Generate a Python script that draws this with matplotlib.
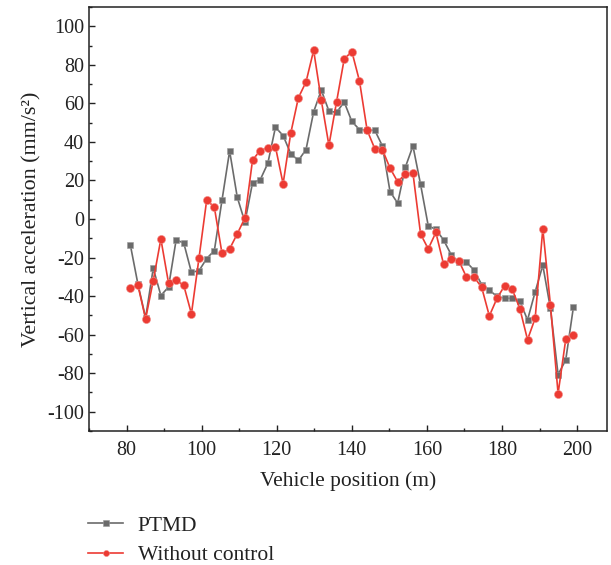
import numpy as np
import matplotlib
matplotlib.use("Agg")
import matplotlib.pyplot as plt
from matplotlib.ticker import MultipleLocator

plt.rcParams['font.family'] = ['Liberation Serif', 'DejaVu Serif']
plt.rcParams['axes.unicode_minus'] = False

# Vehicle position (m), 59 samples between 81 and 199 m
position = np.linspace(81, 199, 59)

ptmd = [-13.4, -33.9, -51.3, -25.6, -39.7, -35.3, -10.8, -12.5, -27.7, -26.8,
        -20.5, -16.4, 9.7, 35.3, 11.3, -1.6, 18.8, 20.3, 28.9, 47.6,
        43.3, 33.9, 30.4, 36.0, 55.6, 66.9, 56.0, 55.3, 60.7, 50.6,
        46.4, 46.1, 46.1, 37.9, 14.2, 8.2, 26.8, 37.9, 17.9, -3.5,
        -5.4, -10.8, -18.5, -22.4, -22.4, -26.5, -34.1, -36.9, -40.2, -41.1,
        -41.2, -42.6, -52.4, -37.8, -24.0, -46.4, -80.7, -73.2, -45.9]

without_control = [-35.8, -34.5, -51.8, -32.0, -10.4, -33.2, -31.7, -34.5, -49.2, -20.0,
                   9.9, 6.1, -17.8, -15.5, -7.7, 0.5, 30.6, 35.5, 37.0, 37.4,
                   18.3, 44.5, 62.9, 71.1, 87.5, 61.7, 38.2, 60.8, 83.0, 86.9,
                   71.6, 46.1, 36.5, 36.0, 26.4, 19.3, 23.3, 23.8, -7.8, -15.5,
                   -7.0, -23.3, -20.7, -21.6, -30.1, -30.1, -35.5, -50.3, -41.2, -34.6,
                   -36.5, -46.6, -62.6, -51.5, -5.1, -44.7, -90.6, -62.5, -60.4]

fig = plt.figure(figsize=(6.11, 5.65), dpi=100)
ax = fig.add_axes([0.1457, 0.2372, 0.848, 0.7504])

ax.plot(position, ptmd, color='#6b6b6b', lw=1.2, marker='s', markersize=5,
        markerfacecolor='#6b6b6b', markeredgecolor='#9a9a9a', markeredgewidth=0.4,
        label='PTMD', zorder=2)
ax.plot(position, without_control, color='#ec3b33', lw=1.2, marker='o', markersize=5.8,
        markerfacecolor='#ec3b33', markeredgecolor='#f28a85', markeredgewidth=0.4,
        label='Without control', zorder=3)

ax.set_xlim(70, 208)
ax.set_ylim(-110, 110)
ax.xaxis.set_major_locator(MultipleLocator(20))
ax.xaxis.set_minor_locator(MultipleLocator(10))
ax.yaxis.set_major_locator(MultipleLocator(20))
ax.yaxis.set_minor_locator(MultipleLocator(10))
ax.tick_params(which='both', direction='in', labelsize=14.5, colors='#222222')
ax.tick_params(which='major', length=4.5, width=1)
ax.tick_params(axis='x', pad=7)
ax.tick_params(which='minor', length=2.5, width=1)
for s in ax.spines.values():
    s.set_linewidth(1.1)
    s.set_color('#222222')

ax.set_xlabel('Vehicle position (m)', fontsize=15.5, color='#222222', labelpad=8)
ax.set_ylabel('Vertical acceleration (mm/s²)', fontsize=15.8, color='#222222', labelpad=4)

# Legend below the axes, no frame
fig.legend(loc='upper left', bbox_to_anchor=(0.127, 0.106), frameon=False,
           fontsize=15.5, handlelength=1.6, markerscale=0.75, labelspacing=0.42,
           handletextpad=0.7, borderpad=0, labelcolor='#222222')

fig.savefig('out.png', dpi=100)
